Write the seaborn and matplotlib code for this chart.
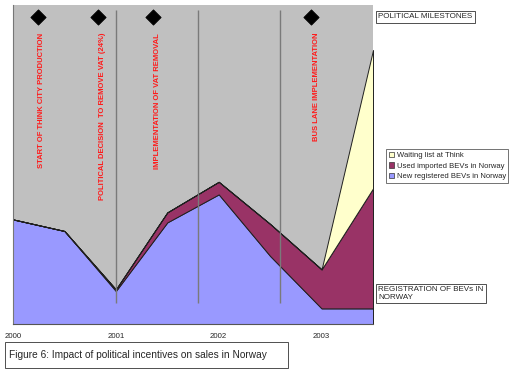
import numpy as np
import pandas as pd
import seaborn as sns
import matplotlib.pyplot as plt
from matplotlib.patches import Patch, Rectangle

# values (arbitrary units, axis has no y scale)
years = [2000, 2000.5, 2001, 2001.5, 2002, 2002.5, 2003, 2003.5]
new_registered = [523, 465, 165, 508, 648, 340, 78, 78]
used_imported = [0, 0, 8, 50, 63, 160, 195, 600]
waiting_list = [0, 0, 0, 0, 0, 0, 0, 692]

milestone_x = [2000.24, 2000.83, 2001.36, 2002.90]
milestone_text_x = [2000.28, 2000.87, 2001.40, 2002.95]
milestone_labels = [
    "START OF THINK CITY PRODUCTION",
    "POLITICAL DECISION  TO REMOVE VAT (24%)",
    "IMPLEMENTATION OF VAT REMOVAL",
    "BUS LANE IMPLEMENTATION",
]
divider_x = [2001.0, 2001.8, 2002.6]

year_ticks = [2000, 2001, 2002, 2003]

sns.set_style("white")
plt.rcParams['font.family'] = ['Liberation Sans', 'DejaVu Sans']

fig = plt.figure(figsize=(5.1, 3.73), dpi=100)
ax = fig.add_axes([0.0255, 0.1314, 0.7059, 0.8552])
ax.set_facecolor('#C0C0C0')

colors = ['#9999FF', '#993366', '#FFFFCC']
ax.stackplot(years, new_registered, used_imported, waiting_list,
             colors=colors, edgecolor='#202020', linewidth=0.7, zorder=2)

ax.vlines(divider_x, 105, 1570, color='#7a7a7a', linewidth=1, zorder=3)

df_m = pd.DataFrame({'x': milestone_x, 'y': [1535] * len(milestone_x)})
sns.scatterplot(data=df_m, x='x', y='y', marker='D', s=60, color='black',
                edgecolor='black', ax=ax, zorder=4, legend=False)

for x, label in zip(milestone_text_x, milestone_labels):
    ax.text(x, 1455, label, rotation=90, ha='center', va='top',
            color='#FF1a1a', fontsize=5.5, fontweight='bold', zorder=4)

ticks = np.arange(2000, 2003.51, 0.5)
ax.set_xlim(2000, 2003.5)
ax.set_ylim(0, 1595)
ax.set_xticks(ticks)
ax.set_xticklabels([str(int(t)) if t in year_ticks else '' for t in ticks], fontsize=5.6)
ax.set_yticks([])
ax.set_xlabel('')
ax.set_ylabel('')
ax.tick_params(axis='x', direction='out', length=3, width=0.8, color='#555555', pad=3.5)
for side in ['top', 'right']:
    ax.spines[side].set_visible(False)
ax.spines['bottom'].set_color('#555555')
ax.spines['left'].set_color('#777777')
ax.spines['bottom'].set_linewidth(0.8)
ax.spines['left'].set_linewidth(0.8)

handles = [
    Patch(facecolor=colors[2], edgecolor='#333333', linewidth=0.5, label='Waiting list at Think'),
    Patch(facecolor=colors[1], edgecolor='#333333', linewidth=0.5, label='Used imported BEVs in Norway'),
    Patch(facecolor=colors[0], edgecolor='#333333', linewidth=0.5, label='New registered BEVs in Norway'),
]
leg = fig.legend(handles=handles, loc='upper left', bbox_to_anchor=(386 / 510, 1 - 149 / 373),
                 fontsize=5.5, frameon=True, fancybox=False, shadow=False,
                 handlelength=0.75, handleheight=0.75, handletextpad=0.3,
                 labelspacing=0.42, borderpad=0.33, borderaxespad=0)
leg.get_frame().set_edgecolor('#333333')
leg.get_frame().set_linewidth(0.6)

fig.text(378 / 510, 1 - 17 / 373, 'POLITICAL MILESTONES', fontsize=5.8,
         ha='left', va='center',
         bbox=dict(boxstyle='square,pad=0.3', facecolor='white', edgecolor='#333333', linewidth=0.6))
fig.text(378 / 510, 1 - 293.5 / 373, 'REGISTRATION OF BEVs IN\nNORWAY', fontsize=5.8,
         ha='left', va='center', linespacing=1.1,
         bbox=dict(boxstyle='square,pad=0.3', facecolor='white', edgecolor='#333333', linewidth=0.6))

# caption box
fig.patches.append(Rectangle((5 / 510, 1 - 368 / 373), 283 / 510, 26 / 373,
                             transform=fig.transFigure, facecolor='white',
                             edgecolor='#333333', linewidth=0.6))
fig.text(9 / 510, 1 - 355.5 / 373, 'Figure 6: Impact of political incentives on sales in Norway',
         fontsize=7.3, ha='left', va='center')

fig.savefig('out.png', dpi=100)
